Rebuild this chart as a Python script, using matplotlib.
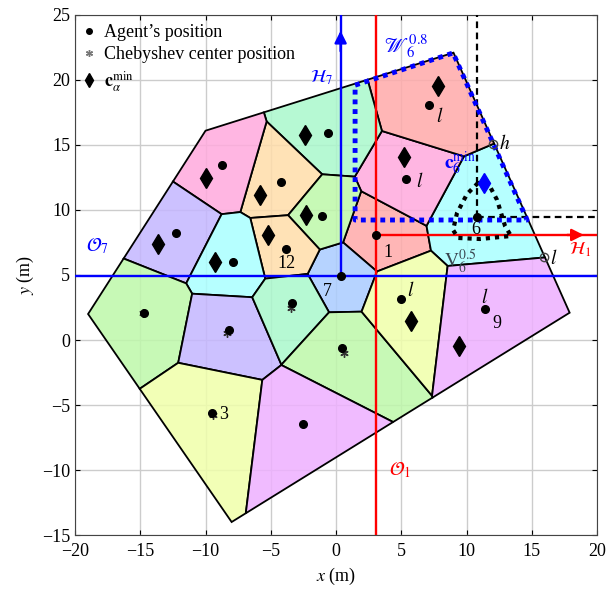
import numpy as np
import matplotlib.pyplot as plt
from matplotlib.colors import to_rgba
from matplotlib.lines import Line2D

plt.rcParams['font.family'] = 'Liberation Serif'
plt.rcParams['mathtext.fontset'] = 'stix'

# outer convex region
boundary_x = [-19.0, -10.0, 9.0, 17.9, -8.0]
boundary_y = [2.0, 16.1, 22.1, 2.1, -14.0]

# agent positions (Voronoi generators)
agent_x = [3.07, 0.35, 10.8, 5.36, 7.13, -0.61, -4.21, -1.07, -3.83, -8.74,
           -12.26, -7.89, -14.71, -8.2, -3.37, 0.46, -9.5, -2.53, 4.98, 11.42]
agent_y = [8.08, 4.92, 9.46, 12.38, 18.08, 15.92, 12.15, 9.54, 7.0, 13.46,
           8.23, 6.0, 2.08, 0.77, 2.85, -0.62, -5.6, -6.46, 3.15, 2.38]
cell_colors = ['#FFAAAA', '#AACCFF', '#AAFFFF', '#FFAADD', '#FFAAAA', '#AAF8CC',
               '#FFDDAA', '#BEF8AA', '#FFDDAA', '#FFAADD', '#C4B6FF', '#AAFFFF',
               '#BEF8AA', '#C4B6FF', '#AAF8CC', '#BEF8AA', '#F0FFAA', '#EEB0FF',
               '#F0FFAA', '#EEB0FF']

# c_alpha^min positions
cmin_x = [7.82, -2.38, -5.82, -2.30, -5.21, -9.96, -13.64, -9.27, 5.75, 9.43, 5.21]
cmin_y = [19.54, 15.77, 11.15, 9.62, 8.08, 12.46, 7.38, 6.0, 1.46, -0.46, 14.08]
c6_x, c6_y = 11.34, 12.08

# Chebyshev centers
cheb_x = [-14.8, -8.35, -3.45, 0.6, -9.45]
cheb_y = [2.05, 0.55, 2.5, -1.0, -5.8]

# W_6^0.8 region
w_x = [1.46, 8.97, 14.64, 1.46]
w_y = [19.6, 22.08, 9.23, 9.23]

# V_6^0.5 region
v_x = [10.88, 10.04, 9.27, 8.97, 9.35, 11.03, 13.41, 12.95, 12.34, 11.65]
v_y = [12.08, 11.23, 9.77, 8.46, 7.85, 7.77, 8.0, 8.77, 10.77, 12.08]

# agent number labels
num_text = ['1', '7', '12', '3', '9', '6']
num_x = [4.0, -0.7, -3.8, -8.6, 12.3, 10.7]
num_y = [6.7, 3.7, 5.9, -5.7, 1.3, 8.5]

l_x = [6.4, 7.97, 5.7, 11.4]
l_y = [12.2, 17.2, 3.8, 3.3]


def clip(poly, a, b, c):
    out = []
    n = len(poly)
    for k in range(n):
        p = poly[k]
        q = poly[(k + 1) % n]
        fp = a * p[0] + b * p[1] - c
        fq = a * q[0] + b * q[1] - c
        if fp <= 0:
            out.append(p)
        if fp * fq < 0:
            t = fp / (fp - fq)
            out.append((p[0] + t * (q[0] - p[0]), p[1] + t * (q[1] - p[1])))
    return out


def voronoi_cell(i):
    poly = list(zip(boundary_x, boundary_y))
    for j in range(len(agent_x)):
        if j == i:
            continue
        a = agent_x[j] - agent_x[i]
        b = agent_y[j] - agent_y[i]
        c = (a * (agent_x[j] + agent_x[i]) + b * (agent_y[j] + agent_y[i])) / 2
        poly = clip(poly, a, b, c)
    return poly


fig = plt.figure(figsize=(6.07, 5.90), dpi=100)
ax = fig.add_axes([0.1236, 0.0932, 0.86, 0.8814])

for i in range(len(agent_x)):
    cell = voronoi_cell(i)
    xs = [p[0] for p in cell]
    ys = [p[1] for p in cell]
    ax.fill(xs, ys, facecolor=to_rgba(cell_colors[i], 0.85),
            edgecolor='black', lw=1.3, zorder=1)

# O_1 / H_1 (red)
ax.plot([agent_x[0], agent_x[0]], [-15, 25], color='red', lw=1.7, zorder=3)
ax.plot([agent_x[0], 20], [agent_y[0], agent_y[0]], color='red', lw=1.7, zorder=3)
ax.annotate('', xy=(19.2, agent_y[0]), xytext=(17.5, agent_y[0]),
            arrowprops=dict(arrowstyle='-|>', color='red', lw=1.7, mutation_scale=18),
            zorder=3)

# O_7 / H_7 (blue)
ax.plot([-20, 20], [agent_y[1], agent_y[1]], color='blue', lw=1.7, zorder=3)
ax.plot([agent_x[1], agent_x[1]], [agent_y[1], 25], color='blue', lw=1.7, zorder=3)
ax.annotate('', xy=(agent_x[1], 24.0), xytext=(agent_x[1], 22.0),
            arrowprops=dict(arrowstyle='-|>', color='blue', lw=1.7, mutation_scale=18),
            zorder=3)

# dashed axes of agent 6
ax.plot([agent_x[2], agent_x[2]], [agent_y[2], 25], color='black', lw=1.6,
        dashes=(3, 2), zorder=3)
ax.plot([agent_x[2], 20], [agent_y[2], agent_y[2]], color='black', lw=1.6,
        dashes=(3, 2), zorder=3)

ax.plot(w_x + [w_x[0]], w_y + [w_y[0]], color='blue', lw=3.5, dashes=(1, 1),
        zorder=4)
ax.plot(v_x + [v_x[0]], v_y + [v_y[0]], color='black', lw=3, dashes=(1, 1.2),
        zorder=4)

ax.plot(cmin_x, cmin_y, 'd', color='black', ms=10, zorder=5)
ax.plot(c6_x, c6_y, 'd', color='blue', ms=10, zorder=5)
ax.plot(cheb_x, cheb_y, ls='none', marker=(6, 2, 0), color='#333333', ms=6,
        mew=1, zorder=5)
ax.plot(agent_x, agent_y, 'o', color='black', ms=5.5, zorder=6)

# h and l vertices
ax.plot([12.03, 15.94], [15.08, 6.38], 'o', mfc='none', mec='#444444', ms=6, zorder=6)
ax.text(12.5, 15.1, r'$h$', fontsize=14, va='center', ha='left')
ax.text(16.4, 6.3, r'$l$', fontsize=14, va='center', ha='left')
for i in range(len(l_x)):
    ax.text(l_x[i], l_y[i], r'$l$', fontsize=14, ha='center', va='center')
for i in range(len(num_text)):
    ax.text(num_x[i], num_y[i], num_text[i], fontsize=13, ha='center', va='center')

ax.text(-18.3, 7.2, r'$\mathcal{O}_7$', color='blue', fontsize=14, ha='center', va='center')
ax.text(-1.1, 20.2, r'$\mathcal{H}_7$', color='blue', fontsize=13, ha='center', va='center')
ax.text(4.9, -10.0, r'$\mathcal{O}_1$', color='red', fontsize=14, ha='center', va='center')
ax.text(18.7, 6.9, r'$\mathcal{H}_1$', color='red', fontsize=13, ha='center', va='center')
ax.text(5.4, 22.5, r'$\mathscr{W}_6^{0.8}$', color='blue', fontsize=15, ha='center', va='center')
ax.text(9.5, 13.6, r'$\mathbf{c}_6^{\min}$', color='blue', fontsize=14, ha='center', va='center')
ax.text(9.5, 6.1, r'$\mathrm{V}_6^{0.5}$', color='#3a4650', fontsize=14, ha='center', va='center')

ax.set_xlim(-20, 20)
ax.set_ylim(-15, 25)
ax.set_xticks(np.arange(-20, 21, 5))
ax.set_yticks(np.arange(-15, 26, 5))
ax.tick_params(direction='in', top=True, right=True, labelsize=13)
ax.tick_params(axis='x', pad=6)
ax.grid(True, color='#cccccc', lw=1)
ax.set_axisbelow(True)
for s in ax.spines.values():
    s.set_color('#444444')
ax.set_xlabel(r'$x$ (m)', fontsize=13)
ax.set_ylabel(r'$y$ (m)', fontsize=13)

handles = [
    Line2D([], [], ls='none', marker='o', color='black', ms=4),
    Line2D([], [], ls='none', marker=(6, 2, 0), color='#777777', ms=5, mew=1),
    Line2D([], [], ls='none', marker='d', color='black', ms=7),
]
ax.legend(handles, ["Agent\u2019s position", 'Chebyshev center position',
                    r'$\mathbf{c}_\alpha^{\min}$'],
          loc='upper left', frameon=False, fontsize=13, handlelength=0.6,
          handletextpad=0.5, borderaxespad=0.1, labelspacing=0.3)

plt.savefig('out.png', dpi=100)
